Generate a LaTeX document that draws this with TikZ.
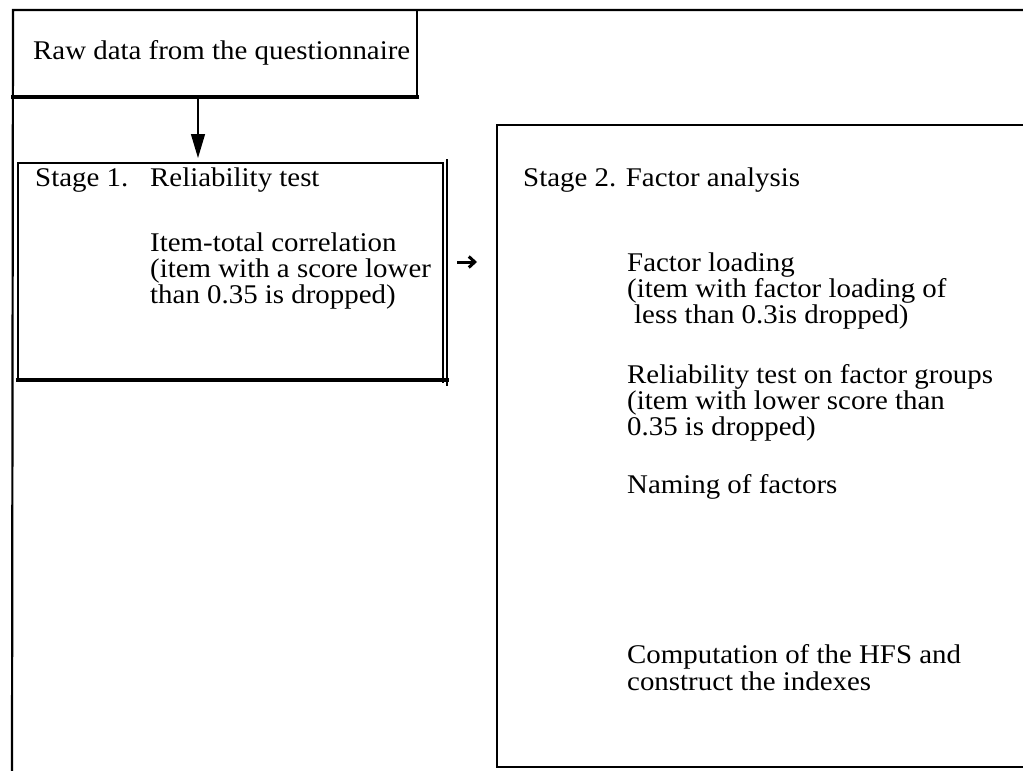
\documentclass[tikz,border=0pt]{standalone}
\usepackage{fontspec}
\setmainfont{Liberation Serif}[FakeStretch=1.07]
\usetikzlibrary{arrows.meta}
\begin{document}
\begin{tikzpicture}[x=1pt,y=-1pt,
  rule/.style={line width=1.8pt, line cap=rect},
  heavy/.style={line width=3.4pt, line cap=rect},
  label/.style={anchor=base west, inner sep=0pt, font=\fontsize{27}{26}\selectfont},
  flow/.style={line width=1.3pt, -{Triangle[length=24pt,width=14pt]}},
  hop/.style={line width=3pt, -{Straight Barb[length=6pt,width=11pt,line width=3pt]}}
]
\useasboundingbox (0,0) rectangle (1023,771);

% outer frame: top rule and left rule, open at right and bottom
\coordinate (tl) at (13,10);
\coordinate (tr) at (1023,10);
\coordinate (bl) at (12,771);
\draw[rule, line width=2.2pt] (tr) -- (tl) -- (bl);

% box with the raw data
\coordinate (rawbr) at (417,97);
\draw[heavy] (13,97) -- (rawbr);
\draw[heavy, line width=2.8pt] (417,10) -- (rawbr);
\node[label] (raw) at (33,59) {Raw data from the questionnaire};

% stage 1 box, double rule on the right and heavy rule at the bottom
\draw[rule] (18,380) -- (18,163) -- (443,163) -- (443,382);
\draw[rule] (447,160) -- (447,385);
\draw[heavy] (18,380) -- (447,380);
\node[label] (s1) at (35,186) {Stage 1.};
\node[label] (s1t) at (150,186) {Reliability test};
\node[label] (s1a) at (150,251) {Item-total correlation};
\node[label] (s1b) at (150,277) {(item with a score lower};
\node[label] (s1c) at (150,303) {than 0.35 is dropped)};

% stage 2 box, open at the right
\draw[rule, line width=1.4pt] (1023,125) -- (497,125) -- (497,767) -- (1023,767);
\node[label] (s2) at (523,186) {Stage 2. Factor analysis};
\node[label] (f1a) at (627,271) {Factor loading};
\node[label] (f1b) at (627,297) {(item with factor loading of};
\node[label] (f1c) at (634,323) {less than 0.3is dropped)};
\node[label] (f2a) at (627,383) {Reliability test on factor groups};
\node[label] (f2b) at (627,409) {(item with lower score than};
\node[label] (f2c) at (627,435) {0.35 is dropped)};
\node[label] (f3) at (627,493) {Naming of factors};
\node[label] (f4a) at (627,663) {Computation of the HFS and};
\node[label] (f4b) at (627,690) {construct the indexes};

% connectors
\coordinate (down0) at (198,97);
\coordinate (down1) at (198,158);
\draw[flow] (down0) -- (down1);
\coordinate (hop0) at (457,262);
\coordinate (hop1) at (477,262);
\draw[hop] (hop0) -- (hop1);
\end{tikzpicture}
\end{document}
